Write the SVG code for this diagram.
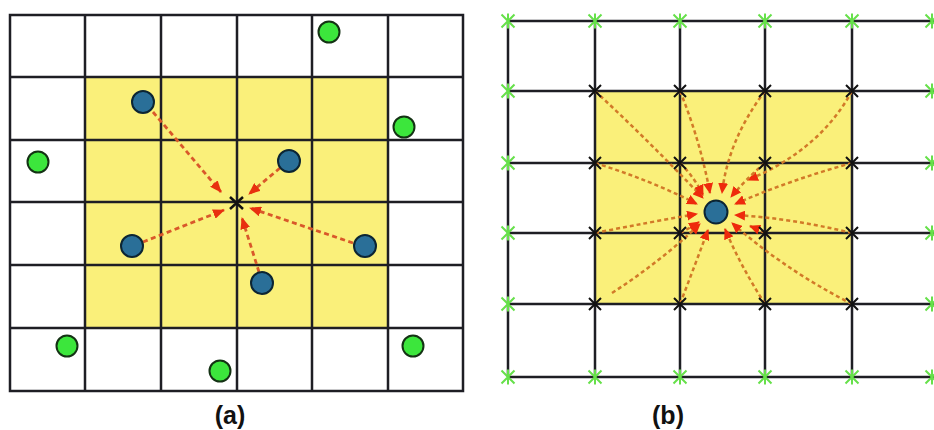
<svg xmlns="http://www.w3.org/2000/svg" width="934" height="430" viewBox="0 0 934 430">
<style>
.grid{stroke:#1e1e24;stroke-width:2.5;fill:none}
.yel{fill:#faf07a}
.green{fill:#3ce63c;stroke:#143214;stroke-width:2}
.blue{fill:#2a6f98;stroke:#0c2533;stroke-width:2}
.arra{fill:none;stroke:#d9582a;stroke-width:2.8;stroke-dasharray:5 3.5;marker-end:url(#ah)}
.arrb{fill:none;stroke:#d27a28;stroke-width:2.5;stroke-dasharray:4 3;marker-end:url(#ahb)}
.bx{stroke:#111;stroke-width:2}
.gx{stroke:#66e04a;stroke-width:2}
.lbl{font-family:"Liberation Sans",Arial,sans-serif;font-weight:bold;font-size:25px;fill:#111}
</style>
<defs>
<marker id="ah" markerWidth="12" markerHeight="10" refX="11" refY="5" orient="auto" markerUnits="userSpaceOnUse">
<path d="M0,0 L12,5 L0,10 z" fill="#e8300f"/>
</marker>
<marker id="ahb" markerWidth="11" markerHeight="10" refX="10" refY="5" orient="auto" markerUnits="userSpaceOnUse">
<path d="M0,0 L11,5 L0,10 z" fill="#ee2a0c"/>
</marker>
<g id="bxm"><path class="bx" d="M-6,-6 L6,6 M-6,6 L6,-6"/></g>
<g id="gxm"><path class="gx" d="M-6.5,-6.5 L6.5,6.5 M-6.5,6.5 L6.5,-6.5 M0,-7.5 L0,7.5"/></g>
</defs>
<rect width="934" height="430" fill="#ffffff"/>

<!-- Panel (a) -->
<g id="panel-a-grid">
<rect class="yel" x="85" y="77" width="303" height="251"/>
<rect class="grid" x="10" y="15" width="453" height="376"/>
<path class="grid" d="M85,15 V391 M161,15 V391 M237,15 V391 M312,15 V391 M388,15 V391 M10,77 H463 M10,140 H463 M10,202 H463 M10,265 H463 M10,328 H463"/>
</g>
<g id="a-connectors">
<path class="arra" d="M153,112 L221,192"/>
<path class="arra" d="M280,168 L249,194"/>
<path class="arra" d="M143,242 L224,210"/>
<path class="arra" d="M353,243 L250,208"/>
<path class="arra" d="M259,272 L242,218"/>
</g>
<g id="a-target"><path d="M230,197 L243,209 M230,209 L243,197" stroke="#111" stroke-width="2.5"/></g>
<g id="a-green">
<circle class="green" cx="329" cy="32" r="10.5"/>
<circle class="green" cx="404" cy="127" r="10.5"/>
<circle class="green" cx="38" cy="162" r="10.5"/>
<circle class="green" cx="67" cy="346" r="10.5"/>
<circle class="green" cx="220" cy="371" r="10.5"/>
<circle class="green" cx="413" cy="346" r="10.5"/>
</g>
<g id="a-blue">
<circle class="blue" cx="143" cy="102" r="11"/>
<circle class="blue" cx="289" cy="161" r="11"/>
<circle class="blue" cx="132" cy="246" r="11"/>
<circle class="blue" cx="365" cy="246" r="11"/>
<circle class="blue" cx="262" cy="283" r="11"/>
</g>
<text id="label-a" class="lbl" x="230" y="424" text-anchor="middle">(a)</text>

<!-- Panel (b) -->
<g id="panel-b-grid">
<rect class="yel" x="595" y="91" width="257" height="213"/>
<path class="grid" d="M508,21 V377 M595,21 V377 M680,21 V377 M765,21 V377 M852,21 V377 M508,21 H934 M508,91 H934 M508,163 H934 M508,233 H934 M508,304 H934 M508,377 H934"/>
</g>
<g id="b-connectors">
<path class="arrb" d="M595,91 Q650,142 703,198"/>
<path class="arrb" d="M680,91 Q700,140 710,193"/>
<path class="arrb" d="M765,91 Q728,140 722,193"/>
<path class="arrb" d="M852,91 Q820,150 748,180"/>
<path class="arrb" d="M595,163 Q650,180 697,204"/>
<path class="arrb" d="M680,163 Q695,178 703,195"/>
<path class="arrb" d="M765,163 Q745,180 731,197"/>
<path class="arrb" d="M852,163 Q790,180 735,204"/>
<path class="arrb" d="M595,233 Q650,222 697,214"/>
<path class="arrb" d="M680,233 Q690,228 699,222"/>
<path class="arrb" d="M765,233 Q755,228 750,226"/>
<path class="arrb" d="M852,233 Q790,218 735,215"/>
<path class="arrb" d="M612,293 Q660,262 700,224"/>
<path class="arrb" d="M680,304 Q695,265 708,230"/>
<path class="arrb" d="M765,304 Q740,265 725,229"/>
<path class="arrb" d="M852,304 Q785,270 732,223"/>
</g>
<g id="b-black-nodes">
<use href="#bxm" x="595" y="91"/><use href="#bxm" x="680" y="91"/><use href="#bxm" x="765" y="91"/><use href="#bxm" x="852" y="91"/>
<use href="#bxm" x="595" y="163"/><use href="#bxm" x="680" y="163"/><use href="#bxm" x="765" y="163"/><use href="#bxm" x="852" y="163"/>
<use href="#bxm" x="595" y="233"/><use href="#bxm" x="680" y="233"/><use href="#bxm" x="765" y="233"/><use href="#bxm" x="852" y="233"/>
<use href="#bxm" x="595" y="304"/><use href="#bxm" x="680" y="304"/><use href="#bxm" x="765" y="304"/><use href="#bxm" x="852" y="304"/>
</g>
<g id="b-green-nodes">
<use href="#gxm" x="508" y="21"/><use href="#gxm" x="595" y="21"/><use href="#gxm" x="680" y="21"/><use href="#gxm" x="765" y="21"/><use href="#gxm" x="852" y="21"/><use href="#gxm" x="932" y="21"/>
<use href="#gxm" x="508" y="91"/><use href="#gxm" x="932" y="91"/>
<use href="#gxm" x="508" y="163"/><use href="#gxm" x="932" y="163"/>
<use href="#gxm" x="508" y="233"/><use href="#gxm" x="932" y="233"/>
<use href="#gxm" x="508" y="304"/><use href="#gxm" x="932" y="304"/>
<use href="#gxm" x="508" y="377"/><use href="#gxm" x="595" y="377"/><use href="#gxm" x="680" y="377"/><use href="#gxm" x="765" y="377"/><use href="#gxm" x="852" y="377"/><use href="#gxm" x="932" y="377"/>
</g>
<g id="b-source"><circle class="blue" cx="716" cy="212" r="11.5"/></g>
<text id="label-b" class="lbl" x="668" y="424" text-anchor="middle">(b)</text>
</svg>
